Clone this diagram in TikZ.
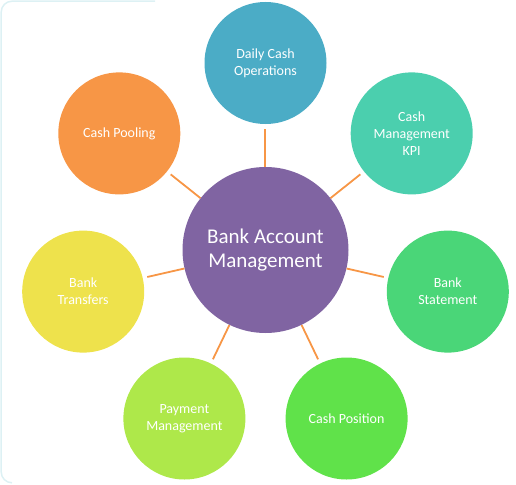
\documentclass[tikz,border=0pt]{standalone}
\usepackage{fontspec}
\setmainfont{Carlito}
\begin{document}
\begin{tikzpicture}[x=1pt,y=-1pt,
  sat/.style={circle,minimum size=122pt,inner sep=0pt,text=white,align=center,font=\fontsize{14}{17}\selectfont},
  hub/.style={circle,minimum size=166pt,inner sep=0pt,text=white,align=center,fill=hubc,font=\fontsize{21}{24}\selectfont},
  link/.style={draw=linkc,line width=1.8pt,shorten >=4.5pt}]
\definecolor{hubc}{HTML}{8064A2}
\definecolor{linkc}{HTML}{F79646}
\definecolor{c1}{HTML}{4BACC6}
\definecolor{c2}{HTML}{4BCFAE}
\definecolor{c3}{HTML}{4AD678}
\definecolor{c4}{HTML}{60E24A}
\definecolor{c5}{HTML}{AEE84A}
\definecolor{c6}{HTML}{EEE24C}
\definecolor{c7}{HTML}{F79646}
\definecolor{edgec}{HTML}{DDF1F4}
\useasboundingbox (0,0) rectangle (516,484);
\draw[edgec,line width=1.5pt] (155,1.2) -- (12,1.2) arc[start angle=270,end angle=180,radius=10.8] -- (1.2,472) arc[start angle=180,end angle=90,radius=10.8];
\node[hub] (hub) at (265.5,250) {Bank Account\\Management};
\node[sat,fill=c1] (s1) at (265.5,63) {Daily Cash\\Operations};
\node[sat,fill=c2] (s2) at (411.7,133.4) {Cash\\Management\\KPI};
\node[sat,fill=c3] (s3) at (447.8,291.6) {Bank\\Statement};
\node[sat,fill=c4] (s4) at (346.6,418.5) {Cash Position};
\node[sat,fill=c5] (s5) at (184.4,418.5) {Payment\\Management};
\node[sat,fill=c6] (s6) at (83.2,291.6) {Bank\\Transfers};
\node[sat,fill=c7] (s7) at (119.3,133.4) {Cash Pooling};
\foreach \s in {s2,s3,s4,s5,s6,s7}
  \draw[link] (hub) -- (\s);
\draw[link] ([xshift=-0.5pt]hub.north) -- ([xshift=-0.5pt]s1.south);
\end{tikzpicture}
\end{document}
